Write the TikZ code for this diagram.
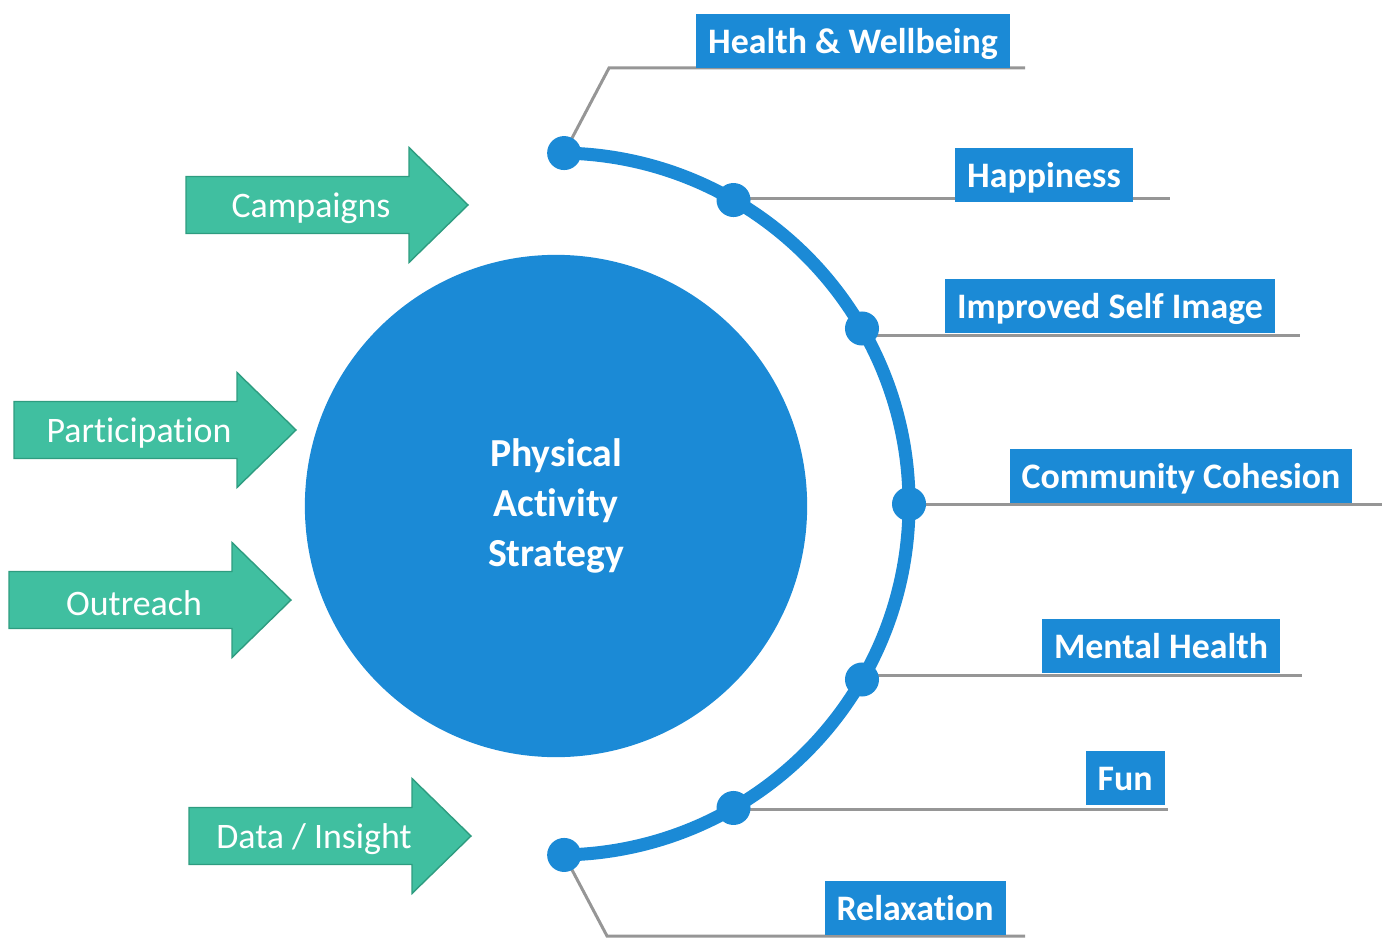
\documentclass[tikz,border=0pt]{standalone}
\usepackage{fontspec}
\setmainfont{Carlito}[Ligatures=NoCommon]
\usetikzlibrary{positioning,calc}
\definecolor{pblue}{RGB}{27,138,214}
\definecolor{pgreen}{RGB}{64,191,160}
\definecolor{pgreenline}{RGB}{46,156,128}
\definecolor{pgray}{RGB}{150,150,150}

\begin{document}
\begin{tikzpicture}[x=0.01cm,y=0.01cm,
      blob/.style={
        circle,
        fill=pblue,
        minimum size=5.02cm,
        inner sep=0pt,
        text=white,
        align=center,
        font=\fontsize{11.3}{14.2}\selectfont\bfseries
      },
      dot/.style={
        circle,
        fill=pblue,
        minimum size=0.34cm,
        inner sep=0pt
      },
      tag/.style={
        fill=pblue,
        text=white,
        inner xsep=0.12cm,
        inner ysep=0pt,
        minimum height=0.53cm,
        text height=0.78em,
        text depth=0.08em,
        font=\fontsize{10.2}{12}\selectfont\bfseries
      },
      flow/.style={fill=pgreen,draw=pgreenline,line width=0.4pt},
      flowtxt/.style={text=white,font=\fontsize{10.2}{12}\selectfont},
      lead/.style={draw=pgray,line width=0.03cm},
      rim/.style={draw=pblue,line width=0.13cm}
      ]
      \useasboundingbox (0,0) rectangle (1389,939);

      % input arrows
      \foreach \tx/\ty/\lbl/\nm in {468/734/Campaigns/camp,
          296/509/Participation/part,
          291/339/Outreach/outr,
          471/103/{Data / Insight}/data}{
        \draw[flow] (\tx,\ty) -- ++(-59,57.5) -- ++(0,-29) -- ++(-223,0)
          -- ++(0,-57) -- ++(223,0) -- ++(0,-29) -- cycle;
        \node[flowtxt] (\nm) at (\tx-157,\ty-3) {\lbl};
      }

      \node[blob] (pas) at (556,433)
        {Physical\\Activity\\Strategy};

      % outcome ring
      \coordinate (o) at (558,435);
      \foreach \a/\i in {89/1,60/2,30/3,0/4,-30/5,-60/6,-89/7}
        \coordinate (d\i) at ($(o)+(\a:351)$);

      \coordinate (e1) at (609,871);
      \coordinate (f1) at (1025,871);
      \coordinate (e2) at (1170,740);
      \coordinate (e3) at (1300,603);
      \coordinate (e4) at (1382,435);
      \coordinate (e5) at (1302,264);
      \coordinate (e6) at (1168,130);
      \coordinate (e7) at (607,3);
      \coordinate (f7) at (1025,3);

      \draw[lead] (d1) -- (e1) -- (f1);
      \foreach \i in {2,...,6}
        \draw[lead] (d\i |- e\i) -- (e\i);
      \draw[lead] (d7) -- (e7) -- (f7);

      \draw[rim] (d1) arc[start angle=89,end angle=-89,radius=351];
      \foreach \i in {1,...,7}
        \node[dot] (n\i) at (d\i) {};

      \node[tag] (hw) at (853,898) {Health \& Wellbeing};
      \node[tag] (hap) at (1044,764) {Happiness};
      \node[tag] (img) at (1110,633) {Improved Self Image};
      \node[tag] (coh) at (1181,463) {Community Cohesion};
      \node[tag] (mh) at (1161,293) {Mental Health};
      \node[tag] (fun) at (1125,161) {Fun};
      \node[tag] (rel) at (915,31) {Relaxation};
    \end{tikzpicture}
\end{document}
